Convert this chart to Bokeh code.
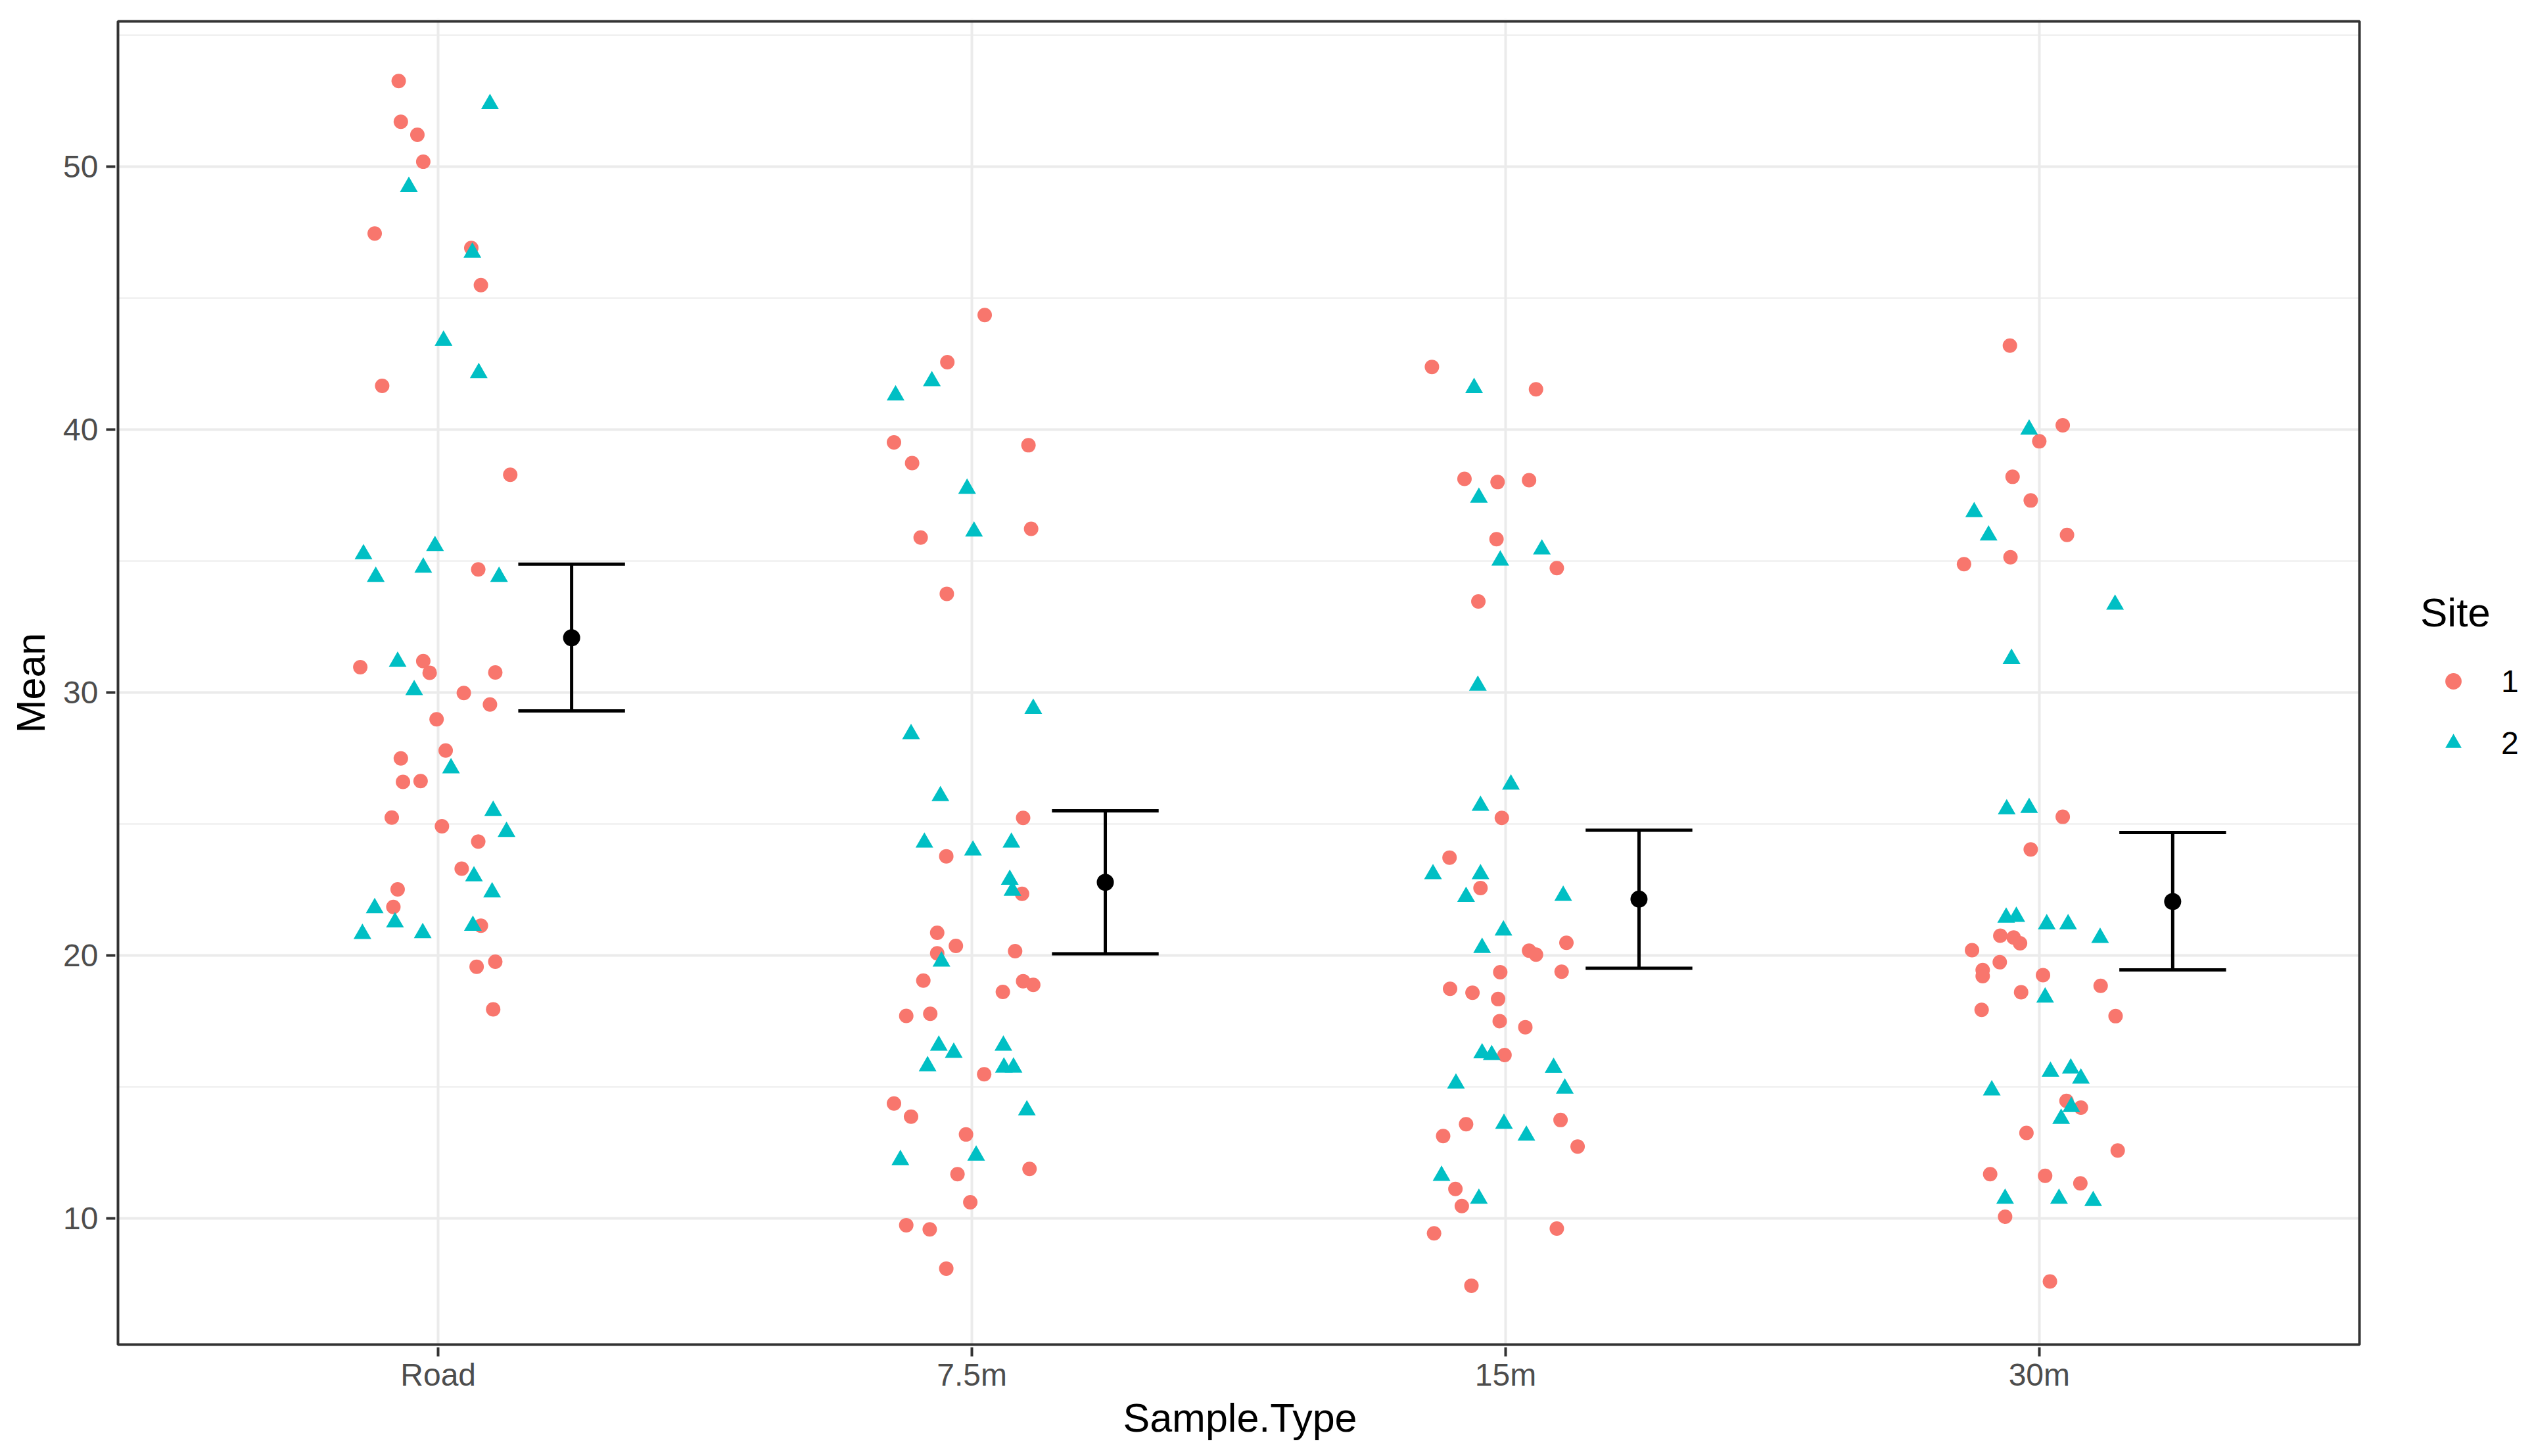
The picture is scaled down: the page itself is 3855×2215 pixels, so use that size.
from bokeh.plotting import figure
from bokeh.models import (Range1d, FixedTicker, Legend, LegendItem, ColumnDataSource,
                          BoxAnnotation, Title)
from bokeh.embed import file_html
from bokeh.resources import INLINE

# ---------------- data ----------------
categories = ["Road", "7.5m", "15m", "30m"]

# Site 1 (circles): values and horizontal jitter (category units)
road_s1 = [53.25, 51.70, 51.21, 50.18, 47.45, 46.90, 45.49, 41.66, 38.28, 34.68, 30.96, 31.19, 30.75, 30.76,
           29.98, 29.54, 28.98, 27.79, 27.49, 26.60, 26.63, 25.24, 24.91, 24.33, 23.30, 22.51, 21.84, 21.13,
           19.76, 19.57, 17.95]
road_s1_jit = [-0.074, -0.070, -0.039, -0.028, -0.119, 0.062, 0.080, -0.105, 0.135, 0.075, -0.146, -0.028,
               -0.016, 0.107, 0.048, 0.097, -0.003, 0.014, -0.070, -0.066, -0.033, -0.087, 0.007, 0.075,
               0.044, -0.076, -0.084, 0.080, 0.107, 0.072, 0.103]
m75_s1 = [44.35, 42.56, 39.51, 39.40, 38.72, 35.89, 36.22, 33.75, 25.23, 23.77, 22.34, 20.86, 20.36, 20.08,
          20.16, 19.04, 19.02, 18.88, 18.61, 17.70, 17.78, 15.48, 14.37, 13.87, 13.19, 11.68, 11.88, 10.61,
          9.74, 9.58, 8.09]
m75_s1_jit = [0.024, -0.046, -0.146, 0.106, -0.112, -0.096, 0.111, -0.047, 0.096, -0.048, 0.094, -0.065,
              -0.030, -0.065, 0.081, -0.091, 0.096, 0.115, 0.058, -0.123, -0.078, 0.023, -0.146, -0.114,
              -0.011, -0.027, 0.108, -0.003, -0.123, -0.079, -0.048]
m15_s1 = [42.38, 41.53, 38.12, 38.00, 38.07, 35.83, 34.73, 33.46, 25.23, 23.72, 22.56, 20.48, 20.18, 20.03,
          19.36, 19.38, 18.73, 18.58, 18.34, 17.50, 17.27, 16.21, 13.74, 13.58, 13.13, 12.73, 11.12, 10.47,
          9.43, 9.61, 7.44]
m15_s1_jit = [-0.138, 0.057, -0.077, -0.015, 0.044, -0.017, 0.096, -0.051, -0.007, -0.105, -0.047, 0.114,
              0.044, 0.057, -0.010, 0.105, -0.104, -0.062, -0.014, -0.011, 0.037, -0.002, 0.103, -0.074,
              -0.117, 0.135, -0.094, -0.082, -0.134, 0.096, -0.064]
m30_s1 = [43.19, 40.16, 39.55, 38.20, 37.30, 35.99, 34.88, 35.14, 25.27, 24.03, 20.75, 20.68, 20.46, 20.20,
          19.74, 19.44, 19.21, 19.25, 18.84, 18.60, 17.93, 17.69, 14.47, 14.21, 13.25, 12.58, 11.68, 11.62,
          11.33, 10.06, 7.60]
m30_s1_jit = [-0.055, 0.044, 0.000, -0.050, -0.016, 0.052, -0.141, -0.054, 0.044, -0.016, -0.073, -0.048,
              -0.036, -0.126, -0.074, -0.106, -0.106, 0.007, 0.115, -0.034, -0.108, 0.143, 0.051, 0.078,
              -0.024, 0.147, -0.092, 0.011, 0.077, -0.064, 0.020]

# Site 2 (triangles)
road_s2 = [52.38, 49.23, 46.73, 43.38, 42.15, 35.26, 35.57, 34.75, 34.40, 34.40, 31.17, 30.09, 27.12, 25.50,
           24.70, 23.01, 22.40, 21.80, 21.26, 20.82, 20.85, 21.13]
road_s2_jit = [0.097, -0.055, 0.064, 0.010, 0.076, -0.140, -0.006, -0.028, -0.117, 0.114, -0.076, -0.045,
               0.024, 0.103, 0.128, 0.067, 0.101, -0.119, -0.081, -0.142, -0.029, 0.065]
m75_s2 = [41.84, 41.30, 37.75, 36.12, 29.38, 28.42, 26.06, 24.29, 23.99, 24.29, 22.88, 22.46, 19.77, 16.57,
          16.30, 15.79, 16.57, 15.74, 15.74, 14.11, 12.22, 12.39]
m75_s2_jit = [-0.075, -0.143, -0.009, 0.004, 0.115, -0.114, -0.059, -0.089, 0.002, 0.074, 0.071, 0.076,
              -0.057, -0.062, -0.034, -0.083, 0.059, 0.060, 0.078, 0.103, -0.134, 0.008]
m15_s2 = [41.58, 37.41, 35.44, 35.02, 30.26, 26.50, 25.69, 23.09, 23.09, 22.23, 22.27, 20.95, 20.29, 16.28,
          16.21, 15.73, 15.13, 14.94, 13.60, 13.15, 11.62, 10.75]
m15_s2_jit = [-0.059, -0.050, 0.068, -0.010, -0.052, 0.010, -0.047, -0.136, -0.047, -0.074, 0.108, -0.004,
              -0.044, -0.044, -0.026, 0.090, -0.093, 0.111, -0.003, 0.039, -0.120, -0.050]
m30_s2 = [40.00, 36.86, 35.97, 33.34, 31.28, 25.56, 25.61, 21.44, 21.47, 21.19, 21.19, 20.67, 18.40, 15.58,
          15.70, 15.32, 14.87, 14.24, 13.79, 10.75, 10.75, 10.66]
m30_s2_jit = [-0.019, -0.122, -0.095, 0.142, -0.052, -0.061, -0.019, -0.062, -0.043, 0.014, 0.054, 0.114,
              0.011, 0.021, 0.059, 0.078, -0.089, 0.060, 0.041, -0.064, 0.037, 0.101]

# Summary (mean with error bar)
mean_vals = [32.08, 22.78, 22.14, 22.05]
lower_vals = [29.30, 20.06, 19.51, 19.45]
upper_vals = [34.88, 25.50, 24.76, 24.67]

y_ticks = [10, 20, 30, 40, 50]
y_minor = [15, 25, 35, 45, 55]

# ---------------- build sources ----------------
site1 = [(road_s1, road_s1_jit), (m75_s1, m75_s1_jit), (m15_s1, m15_s1_jit), (m30_s1, m30_s1_jit)]
site2 = [(road_s2, road_s2_jit), (m75_s2, m75_s2_jit), (m15_s2, m15_s2_jit), (m30_s2, m30_s2_jit)]


def build(groups):
    xs, ys = [], []
    for i, (vals, jit) in enumerate(groups):
        for v, j in zip(vals, jit):
            xs.append(i + 1 + j)
            ys.append(v)
    return ColumnDataSource(dict(x=xs, y=ys))


src1 = build(site1)
src2 = build(site2)

NUDGE = 0.25
CAP = 0.1
xe = [i + 1 + NUDGE for i in range(len(categories))]
err_src = ColumnDataSource(dict(
    x=xe, mean=mean_vals, lo=lower_vals, hi=upper_vals,
    xl=[x - CAP for x in xe], xr=[x + CAP for x in xe]))

# ---------------- geometry ----------------
W, H = 3847, 2207
PANEL_L, PANEL_R, PANEL_T, PANEL_B = 179, 3589, 32, 2045      # visible panel box (px)
PAD = 4                                                     # frame is slightly larger than the box
X0, X1 = 0.4, 4.6                                           # ggplot discrete expansion
Y0, Y1 = 5.2, 55.52
sx = (PANEL_R - PANEL_L) / (X1 - X0)
sy = (PANEL_B - PANEL_T) / (Y1 - Y0)
fx0 = X0 - PAD / sx
fx1 = X1 + (W - PANEL_R) / sx
fy0 = Y0 - PAD / sy
fy1 = Y1 + PAD / sy

FONT = "Liberation Sans"
TICK_FS = "48px"
TITLE_FS = "61px"
p = figure(width=W, height=H, output_backend="svg", toolbar_location=None,
           x_range=Range1d(fx0, fx1), y_range=Range1d(fy0, fy1),
           min_border_left=PANEL_L - PAD, min_border_right=0,
           min_border_top=PANEL_T - PAD, min_border_bottom=H - PANEL_B - PAD,
           background_fill_color="white", border_fill_color="white")
p.outline_line_color = None

p.xaxis.ticker = FixedTicker(ticks=[1, 2, 3, 4])
p.xaxis.major_label_overrides = {i + 1: c for i, c in enumerate(categories)}
p.xaxis.bounds = (X0, X1)
p.yaxis.ticker = FixedTicker(ticks=y_ticks, minor_ticks=y_minor)
p.yaxis.bounds = (Y0, Y1)

for ax in (p.xaxis[0], p.yaxis[0]):
    ax.axis_line_color = None
    ax.major_tick_line_color = "#333333"
    ax.major_tick_line_width = 4
    ax.major_tick_out = 14
    ax.major_tick_in = 0
    ax.minor_tick_line_color = None
    ax.major_label_text_font = FONT
    ax.major_label_text_font_size = TICK_FS
    ax.major_label_text_color = "#4D4D4D"
    ax.axis_label_text_font = FONT
    ax.axis_label_text_font_size = TITLE_FS
    ax.axis_label_text_font_style = "normal"
    ax.axis_label_text_color = "black"

p.yaxis.axis_label = "Mean"
p.xaxis.major_label_standoff = 1
p.yaxis.major_label_standoff = 12
p.yaxis.axis_label_standoff = 12

# x-axis title, centred under the panel box (not under the wider frame)
p.add_layout(Title(text="Sample.Type", align="left", offset=1533, standoff=0,
                   text_font=FONT, text_font_size=TITLE_FS, text_font_style="normal",
                   text_color="black"), "below")

p.xgrid.grid_line_color = "#EBEBEB"
p.xgrid.grid_line_width = 4
p.ygrid.grid_line_color = "#EBEBEB"
p.ygrid.grid_line_width = 4
p.ygrid.minor_grid_line_color = "#EBEBEB"
p.ygrid.minor_grid_line_width = 2

# points
r1 = p.scatter("x", "y", source=src1, marker="circle", size=22,
               fill_color="#F8766D", line_color=None)
r2 = p.scatter("x", "y", source=src2, marker="triangle", size=27,
               fill_color="#00BFC4", line_color=None)

# error bars + means
p.segment(x0="x", y0="lo", x1="x", y1="hi", source=err_src, line_color="black", line_width=5)
p.segment(x0="xl", y0="hi", x1="xr", y1="hi", source=err_src, line_color="black", line_width=5)
p.segment(x0="xl", y0="lo", x1="xr", y1="lo", source=err_src, line_color="black", line_width=5)
p.scatter("x", "mean", source=err_src, marker="circle", size=26, fill_color="black", line_color=None)

# white masks outside the panel box, then the panel border
for kw in (dict(left=X1, right=fx1, bottom=fy0, top=fy1),
           dict(left=fx0, right=X0, bottom=fy0, top=fy1),
           dict(left=fx0, right=fx1, bottom=Y1, top=fy1),
           dict(left=fx0, right=fx1, bottom=fy0, top=Y0)):
    p.add_layout(BoxAnnotation(fill_color="white", fill_alpha=1, line_color=None, **kw))
p.add_layout(BoxAnnotation(left=X0, right=X1, bottom=Y0, top=Y1, fill_alpha=0,
                           line_color="#333333", line_alpha=1, line_width=4))

legend = Legend(items=[LegendItem(label="1", renderers=[r1]), LegendItem(label="2", renderers=[r2])],
                title="Site", location=(3507, 888), margin=0, padding=10,
                title_text_font=FONT, title_text_font_size="62px", title_text_font_style="normal",
                title_text_color="black", title_standoff=38,
                label_text_font=FONT, label_text_font_size=TICK_FS, label_text_color="black",
                glyph_width=100, glyph_height=62, label_standoff=23, spacing=32,
                background_fill_alpha=0, border_line_color=None)
p.add_layout(legend)

open("out.html", "w").write(file_html(p, INLINE))
